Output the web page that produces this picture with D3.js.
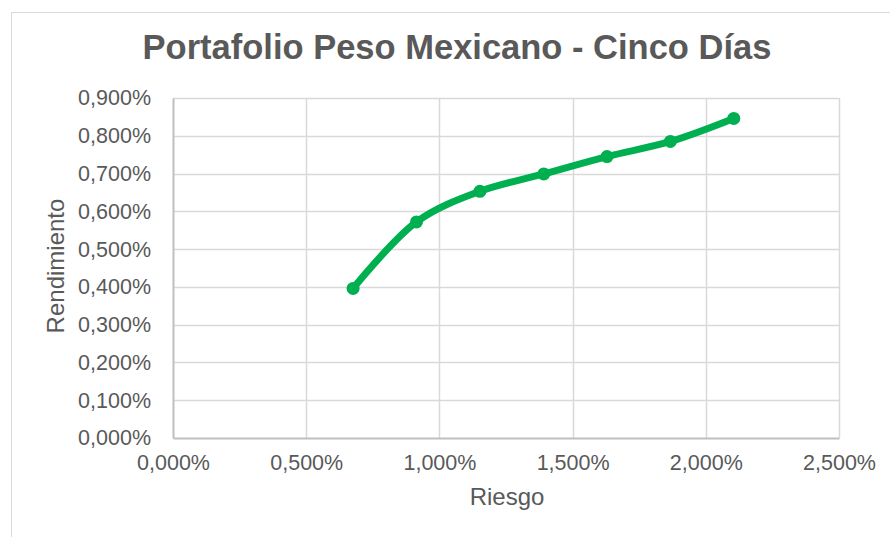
<!DOCTYPE html>
<html>
<head>
<meta charset="utf-8">
<script src="https://cdn.jsdelivr.net/npm/d3@7"></script>
<style>
  body { margin: 0; background: #fff; }
  text { font-family: "Liberation Sans", Arial, sans-serif; fill: #595959; }
</style>
</head>
<body>
<script>
const width = 890;
const height = 537;

// Data (percent values)
const riesgo = [0.676, 0.914, 1.152, 1.392, 1.629, 1.867, 2.105];
const rendimiento = [0.396, 0.572, 0.653, 0.699, 0.745, 0.785, 0.846];
const xTicks = [0, 0.5, 1.0, 1.5, 2.0, 2.5];
const yTicks = [0, 0.1, 0.2, 0.3, 0.4, 0.5, 0.6, 0.7, 0.8, 0.9];

const title = "Portafolio Peso Mexicano - Cinco Días";
const xTitle = "Riesgo";
const yTitle = "Rendimiento";

const plot = { left: 173, right: 839, top: 98, bottom: 438 };

const svg = d3.select("body")
    .append("svg")
    .attr("width", width)
    .attr("height", height);

// chart border
svg.append("rect")
    .attr("x", 11.5).attr("y", 12.5)
    .attr("width", 900).attr("height", 600)
    .attr("fill", "none")
    .attr("stroke", "#d9d9d9");

const xScale = d3.scaleLinear()
    .domain([0, 2.5])
    .range([plot.left, plot.right]);

const yScale = d3.scaleLinear()
    .domain([0, 0.9])
    .range([plot.bottom, plot.top]);

const fmt = v => d3.format(".3f")(v).replace(".", ",") + "%";

// gridlines
svg.append("g")
    .selectAll("line")
    .data(yTicks.slice(1))
    .join("line")
    .attr("x1", plot.left).attr("x2", plot.right)
    .attr("y1", d => Math.round(yScale(d)) + 0.5)
    .attr("y2", d => Math.round(yScale(d)) + 0.5)
    .attr("stroke", "#d9d9d9")
    .attr("stroke-width", 1.5);

svg.append("g")
    .selectAll("line")
    .data(xTicks.slice(1))
    .join("line")
    .attr("x1", d => Math.round(xScale(d)) + 0.5)
    .attr("x2", d => Math.round(xScale(d)) + 0.5)
    .attr("y1", plot.top).attr("y2", plot.bottom)
    .attr("stroke", "#d9d9d9")
    .attr("stroke-width", 1.5);

// axes
const xAxis = d3.axisBottom(xScale)
    .tickValues(xTicks)
    .tickFormat(fmt)
    .tickSize(0)
    .tickPadding(17);

const yAxis = d3.axisLeft(yScale)
    .tickValues(yTicks)
    .tickFormat(fmt)
    .tickSize(0)
    .tickPadding(22);

const gx = svg.append("g")
    .attr("transform", `translate(0, ${plot.bottom})`)
    .call(xAxis);
gx.select(".domain").attr("stroke", "#bfbfbf").attr("stroke-width", 2);
gx.selectAll("text").style("font-size", "21.5px").attr("fill", "#595959");

const gy = svg.append("g")
    .attr("transform", `translate(${plot.left}, 0)`)
    .call(yAxis);
gy.select(".domain").attr("stroke", "#bfbfbf").attr("stroke-width", 2);
gy.selectAll("text").style("font-size", "21.5px").attr("fill", "#595959");

// series
const pts = riesgo.map((x, i) => ({ x, y: rendimiento[i] }));

const line = d3.line()
    .x(d => xScale(d.x))
    .y(d => yScale(d.y))
    .curve(d3.curveCatmullRom.alpha(0.5));

svg.append("path")
    .datum(pts)
    .attr("d", line)
    .attr("fill", "none")
    .attr("stroke", "#00b050")
    .attr("stroke-width", 7)
    .attr("stroke-linecap", "round");

svg.append("g")
    .selectAll("circle")
    .data(pts)
    .join("circle")
    .attr("cx", d => xScale(d.x))
    .attr("cy", d => yScale(d.y))
    .attr("r", 6.5)
    .attr("fill", "#00b050");

// titles
svg.append("text")
    .attr("x", 457)
    .attr("y", 59)
    .attr("text-anchor", "middle")
    .style("font-size", "34.5px")
    .style("font-weight", "bold")
    .text(title);

svg.append("text")
    .attr("x", 507)
    .attr("y", 505)
    .attr("text-anchor", "middle")
    .style("font-size", "24px")
    .text(xTitle);

svg.append("text")
    .attr("transform", `translate(64, ${(plot.top + plot.bottom) / 2 - 2}) rotate(-90)`)
    .attr("text-anchor", "middle")
    .style("font-size", "24px")
    .text(yTitle);
</script>
</body>
</html>
